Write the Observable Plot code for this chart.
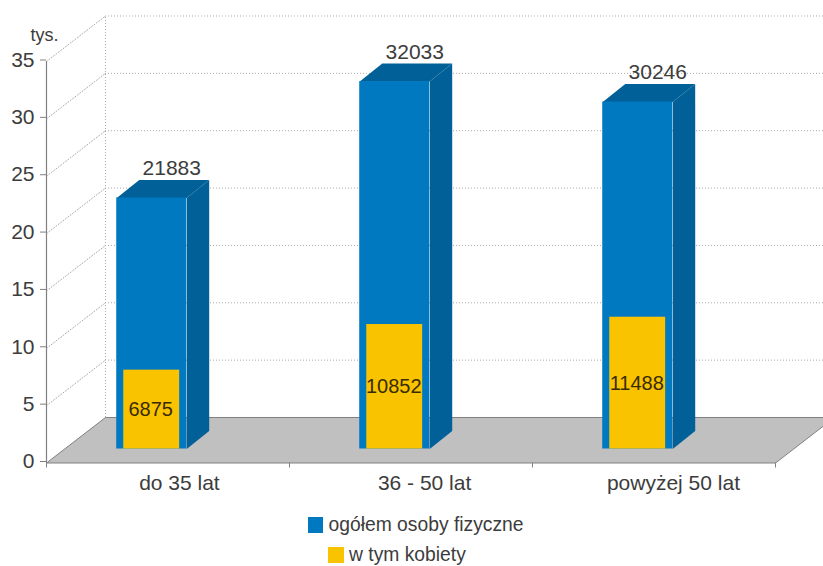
<!DOCTYPE html>
<html lang="pl">
<head>
<meta charset="utf-8">
<script src="https://cdn.jsdelivr.net/npm/d3@7"></script>
<script src="https://cdn.jsdelivr.net/npm/@observablehq/plot@0.6"></script>
<style>
  html, body { margin: 0; padding: 0; background: #fff; overflow: hidden; width: 823px; height: 566px; }
  #wrap { position: relative; width: 823px; height: 566px; overflow: hidden; font-family: "Liberation Sans", Arial, sans-serif; }
  #chart svg { display: block; }
  .lg { position: absolute; display: flex; align-items: center; font-size: 19.3px; color: #3c3c3c; white-space: nowrap; line-height: 20px; }
  .lg i { display: block; width: 15.5px; height: 15.5px; margin-right: 5.5px; }
</style>
</head>
<body>
<div id="wrap"><div id="chart"></div></div>
<script>
// --- data ---
const categories = ["do 35 lat", "36 - 50 lat", "powyżej 50 lat"];
const totals = [21883, 32033, 30246];
const women = [6875, 10852, 11488];
const yTicks = [0, 5, 10, 15, 20, 25, 30, 35];
const legendLabels = ["ogółem osoby fizyczne", "w tym kobiety"];

// --- styling and pseudo-3D geometry, in scale units ---
const BLUE = "#0079c1", DARK = "#006097", YELLOW = "#f9c300", FLOOR = "#c0c0c0";
const TEXT = "#3c3c3c", AXIS = "#808080", GRID = "#a9a9a9";
const wallDX = 0.2428, wallDY = 3.967;     // depth of the chart box
const barLeft = 0.289, barW = 0.288;       // front face of a bar inside its category
const barDX = 0.0926, barDY = 1.57;        // depth of a bar
const base = 1.22;                         // bar foot above the front floor edge
const inner = 0.029;                       // inset of the yellow bar
const labelX = [0.547, 1.556, 2.58];       // category label centres

const rows = categories.map((c, i) => ({
  c, i, total: totals[i] / 1000, woman: women[i] / 1000,
  xl: i + barLeft, xr: i + barLeft + barW
}));

const sides = rows.flatMap(r => [
  {id: r.i, x: r.xr, y: base},
  {id: r.i, x: r.xr + barDX, y: base + barDY},
  {id: r.i, x: r.xr + barDX, y: base + r.total + barDY},
  {id: r.i, x: r.xr, y: base + r.total}
]);
const tops = rows.flatMap(r => [
  {id: r.i, x: r.xl, y: base + r.total},
  {id: r.i, x: r.xr, y: base + r.total},
  {id: r.i, x: r.xr + barDX, y: base + r.total + barDY},
  {id: r.i, x: r.xl + barDX, y: base + r.total + barDY}
]);
const floor = [
  {x: 0, y: 0}, {x: 3, y: 0}, {x: 3 + wallDX, y: wallDY}, {x: wallDX, y: wallDY}, {x: 0, y: 0}
];
const wallTicks = yTicks.filter(v => v > 0);
const diagonals = wallTicks.flatMap(v => [{v, x: 0, y: v}, {v, x: wallDX, y: v + wallDY}]);

const dotted = {stroke: GRID, strokeWidth: 1, strokeDasharray: "1,2"};

const plot = Plot.plot({
  width: 823,
  height: 510,
  marginLeft: 46,
  marginRight: 48,
  marginTop: 61,
  marginBottom: 47.5,
  style: {background: "transparent", fontFamily: '"Liberation Sans", Arial, sans-serif', color: TEXT},
  x: {domain: [0, 3], axis: null},
  y: {domain: [0, 35], axis: null},
  marks: [
    // back wall and side wall grid
    Plot.ruleY(wallTicks, {x1: wallDX, x2: 3 + wallDX, y: v => v + wallDY, ...dotted}),
    Plot.ruleX([wallDX], {y1: wallDY, y2: 35 + wallDY, ...dotted}),
    Plot.line(diagonals, {x: "x", y: "y", z: "v", ...dotted}),
    // floor
    Plot.line(floor, {x: "x", y: "y", fill: FLOOR, stroke: AXIS, strokeWidth: 1}),
    // axes
    Plot.ruleX([0], {y1: 0, y2: 35, stroke: AXIS, strokeWidth: 1.2}),
    Plot.axisY({ticks: yTicks, label: null, tickSize: 6, tickPadding: 6, fontSize: 21, dy: -1.5, stroke: AXIS, color: TEXT, fill: TEXT}),
    Plot.axisX({ticks: [0, 1, 2, 3], label: null, tickSize: 5, tickFormat: () => "", stroke: AXIS}),
    // bars
    Plot.line(sides, {x: "x", y: "y", z: "id", fill: DARK}),
    Plot.line(tops, {x: "x", y: "y", z: "id", fill: DARK}),
    Plot.rect(rows, {x1: "xl", x2: "xr", y1: base, y2: r => base + r.total, fill: BLUE}),
    Plot.rect(rows, {x1: r => r.xl + inner, x2: r => r.xr - inner, y1: base, y2: r => base + r.woman, fill: YELLOW}),
    // value labels
    Plot.text(rows, {
      x: r => r.xl + barW / 2 + barDX, y: r => base + r.total + barDY,
      text: r => String(Math.round(r.total * 1000)), dx: -2.5, dy: -5,
      lineAnchor: "bottom", fontSize: 21, fill: TEXT
    }),
    Plot.text(rows, {
      x: r => r.xl + barW / 2, y: r => base + r.woman / 2,
      text: r => String(Math.round(r.woman * 1000)), dx: -1,
      fontSize: 20, fill: "#3a2c00"
    }),
    // category labels
    Plot.text(rows, {x: r => labelX[r.i], y: 0, text: "c", dy: 20.5, fontSize: 21, fill: TEXT}),
    // unit
    Plot.text(["tys."], {x: 0, y: 35, text: d => d, dx: -2, dy: -26, fontSize: 18, fill: TEXT})
  ]
});
document.getElementById("chart").append(plot);

// legend below the SVG
const wrap = document.getElementById("wrap");
[[BLUE, 307.5, 515], [YELLOW, 328, 545]].forEach(([color, left, top], i) => {
  const el = document.createElement("div");
  el.className = "lg";
  el.style.left = left + "px";
  el.style.top = top + "px";
  const sw = document.createElement("i");
  sw.style.background = color;
  el.append(sw, document.createTextNode(legendLabels[i]));
  wrap.append(el);
});
</script>
</body>
</html>
